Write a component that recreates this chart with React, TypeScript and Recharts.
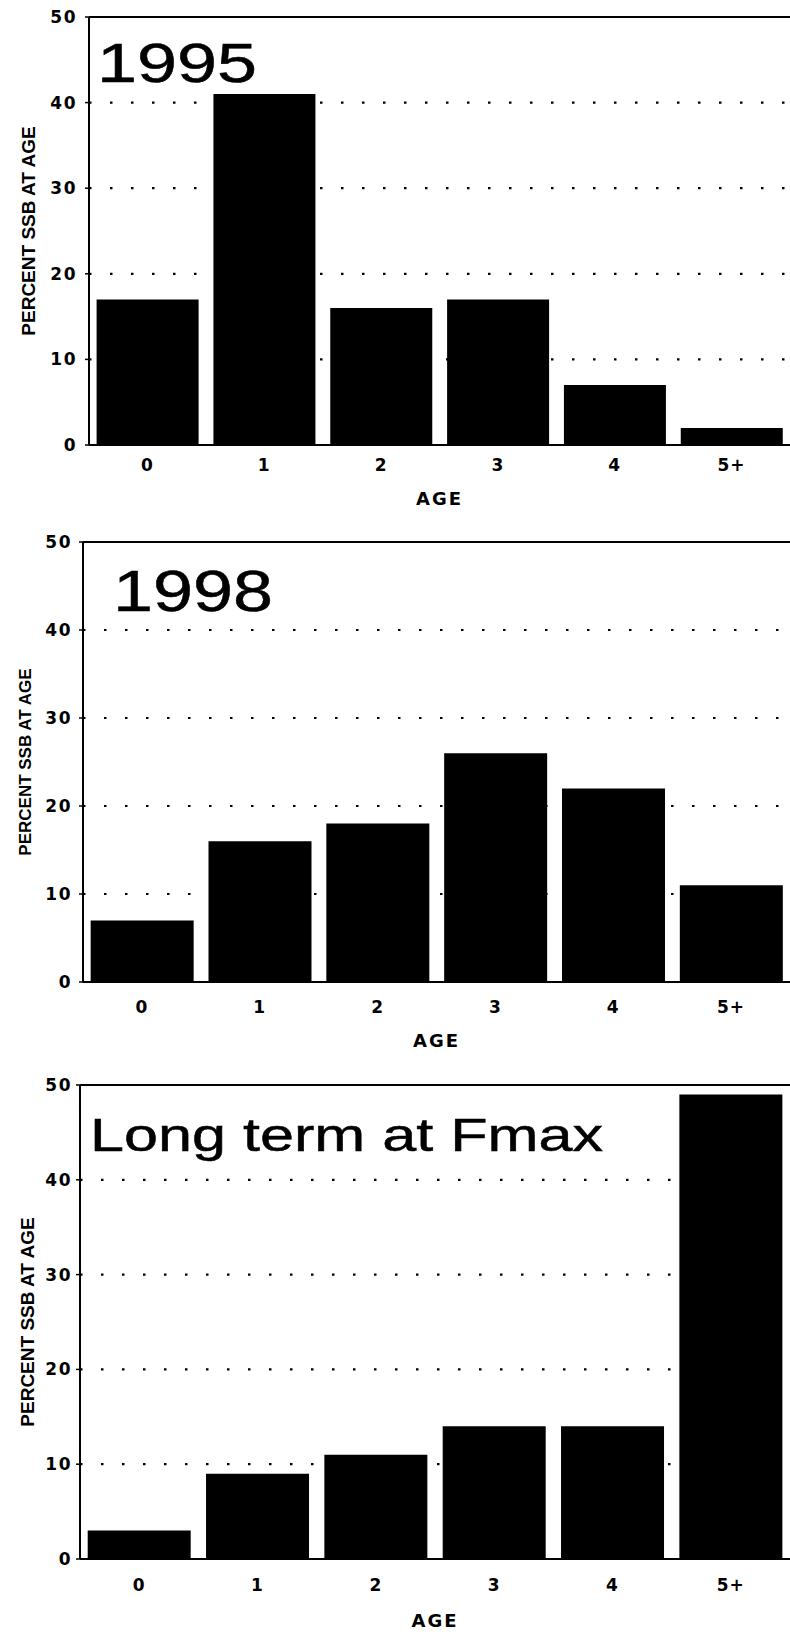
import { BarChart, Bar, XAxis, YAxis, CartesianGrid, ReferenceLine, Label } from 'recharts';

const ages = ['0', '1', '2', '3', '4', '5+'];
const ssb1995 = [17, 41, 16, 17, 7, 2];
const ssb1998 = [7, 16, 18, 26, 22, 11];
const ssbFmax = [3, 9, 11, 14, 14, 49];
const yTicks = [0, 10, 20, 30, 40, 50];
const titles = ['1995', '1998', 'Long term at Fmax'];
const yLabel = 'PERCENT SSB AT AGE';
const xLabel = 'AGE';

const W = 790;

// layout for each of the three stacked panels
const panels = [
  { values: ssb1995, top: 0, height: 520, plotTop: 17, plotBottom: 445, axisX: 89, yTickMargin: 8, xTickMargin: 14, ageY: 505, yLabX: 28, yLabSize: 19, yLabWeight: 'bold' },
  { values: ssb1998, top: 520, height: 540, plotTop: 22, plotBottom: 462, axisX: 83, yTickMargin: 7, xTickMargin: 19, ageY: 527, yLabX: 25, yLabSize: 17, yLabWeight: 'bold' },
  { values: ssbFmax, top: 1060, height: 576, plotTop: 25, plotBottom: 499, axisX: 80, yTickMargin: 4, xTickMargin: 20, ageY: 567, yLabX: 27, yLabSize: 19, yLabWeight: 'bold' },
];

const titlePos = [
  { x: 97, y: 82, size: 56, len: 160 },
  { x: 113, y: 611, size: 57, len: 160 },
  { x: 90, y: 1151, size: 47, len: 513 },
];

const tickStyle = { fontFamily: 'DejaVu Sans', fontSize: 17, fontWeight: 'bold', fill: '#000' };

function Panel({ p }: { p: (typeof panels)[number] }) {
  const data = ages.map((age, i) => ({ age, value: p.values[i] }));
  const plotMidY = (p.plotTop + p.plotBottom) / 2;
  const plotMidX = (p.axisX + W) / 2;
  return (
    <div style={{ position: 'absolute', left: 0, top: p.top }}>
      <BarChart
        width={W}
        height={p.height}
        data={data}
        margin={{ top: p.plotTop, right: 0, bottom: 0, left: 0 }}
        barCategoryGap="6.5%"
      >
        <CartesianGrid vertical={false} stroke="#000" strokeWidth={2.2} strokeDasharray="2.5 18.5" />
        <XAxis
          dataKey="age"
          height={p.height - p.plotBottom}
          tickLine={false}
          tickSize={0}
          tickMargin={p.xTickMargin}
          axisLine={{ stroke: '#000', strokeWidth: 2 }}
          tick={{ ...tickStyle, letterSpacing: 1 }}
          interval={0}
        >
          <Label
            content={() => (
              <text x={plotMidX} y={p.ageY} textAnchor="middle" fontFamily="DejaVu Sans" fontWeight="bold" fontSize={18} letterSpacing={2} fill="#000">
                {xLabel}
              </text>
            )}
          />
        </XAxis>
        <YAxis
          width={p.axisX}
          domain={[0, 50]}
          ticks={yTicks}
          interval={0}
          tickSize={4}
          tickMargin={p.yTickMargin}
          tickLine={{ stroke: '#000', strokeWidth: 1.5 }}
          axisLine={{ stroke: '#000', strokeWidth: 2 }}
          tick={{ ...tickStyle, letterSpacing: 1.5 }}
        >
          <Label
            content={() => (
              <text
                x={p.yLabX}
                y={plotMidY}
                transform={`rotate(-90, ${p.yLabX}, ${plotMidY})`}
                textAnchor="middle"
                dominantBaseline="central"
                fontFamily="Liberation Sans"
                fontWeight={p.yLabWeight}
                fontSize={p.yLabSize}
                fill="#000"
              >
                {yLabel}
              </text>
            )}
          />
        </YAxis>
        <ReferenceLine y={50} stroke="#000" strokeWidth={2} />
        <Bar dataKey="value" fill="#000" isAnimationActive={false} />
      </BarChart>
    </div>
  );
}

export default function App() {
  return (
    <div style={{ position: 'absolute', left: 0, top: 0, width: W, height: 1636, background: '#fff', overflow: 'hidden' }}>
      {panels.map((p, i) => (
        <Panel key={i} p={p} />
      ))}
      <svg width={W} height={1636} style={{ position: 'absolute', left: 0, top: 0, pointerEvents: 'none' }}>
        {titles.map((t, i) => (
          <text
            key={t}
            x={titlePos[i].x}
            y={titlePos[i].y}
            fontFamily="Liberation Sans"
            fontSize={titlePos[i].size}
            textLength={titlePos[i].len}
            lengthAdjust="spacingAndGlyphs"
            fill="#000"
            stroke="#000"
            strokeWidth={0.5}
          >
            {t}
          </text>
        ))}
      </svg>
    </div>
  );
}
